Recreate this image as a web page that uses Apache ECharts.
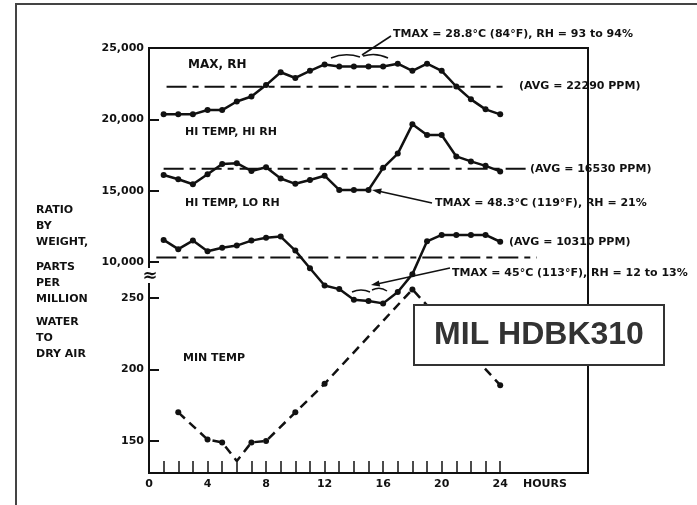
<!DOCTYPE html>
<html>
<head>
<meta charset="utf-8">
<script src="https://cdn.jsdelivr.net/npm/echarts@6/dist/echarts.min.js"></script>
<style>
  html, body { margin: 0; padding: 0; background: #fff; }
  #chart { width: 697px; height: 505px; }
</style>
</head>
<body>
<div id="chart"></div>
<script>
// hours of day
const hours = [1, 2, 3, 4, 5, 6, 7, 8, 9, 10, 11, 12, 13, 14, 15, 16, 17, 18, 19, 20, 21, 22, 23, 24];
const hourTicks = [1, 2, 3, 4, 5, 6, 7, 8, 9, 10, 11, 12, 13, 14, 15, 16, 17, 18, 19, 20, 21, 22, 23, 24];
const hourLabels = [0, 4, 8, 12, 16, 20, 24];

// ppm values, upper scale
const maxRh = [20350, 20350, 20350, 20650, 20650, 21250, 21600, 22400, 23300, 22900, 23400, 23850,
  23700, 23700, 23700, 23700, 23900, 23400, 23900, 23400, 22300, 21400, 20700, 20350];
const hiTempHiRh = [16100, 15800, 15450, 16150, 16870, 16930, 16380, 16640, 15850, 15480, 15750, 16050,
  15050, 15050, 15050, 16600, 17600, 19650, 18900, 18900, 17400, 17050, 16740, 16350];
const hiTempLoRh = [11550, 10900, 11500, 10750, 11000, 11150, 11500, 11700, 11780, 10800, 9560, 8350,
  8100, 7350, 7270, 7100, 7900, 9150, 11450, 11900, 11900, 11900, 11900, 11420];

// ppm values, lower scale
const minTempHours = [2, 4, 5, 6, 7, 8, 10, 12, 18, 24];
const minTemp = [170, 151, 149, 136, 149, 150, 170, 190, 256, 189];

// daily averages
const avgValues = [22290, 16530, 10310];
const avgFrom = [1.2, 1.0, 0.5];
const avgTo = [24.5, 25.9, 26.5];

const upperTicks = [10000, 15000, 20000, 25000];
const lowerTicks = [150, 200, 250];

const chart = echarts.init(document.getElementById('chart'));

const FONT = '"DejaVu Sans", sans-serif';
const INK = '#111';

function txt(text, x, y, extra) {
  return {
    type: 'text', z: 50,
    style: Object.assign({
      text: text, x: x, y: y, fill: INK,
      font: 'bold 11px ' + FONT, textVerticalAlign: 'middle'
    }, extra || {})
  };
}
function seg(points, w) {
  return { type: 'polyline', z: 50, shape: { points: points },
    style: { stroke: INK, lineWidth: w || 1.5, fill: null } };
}
function curve(x1, y1, cx, cy, x2, y2) {
  return { type: 'bezierCurve', z: 50,
    shape: { x1: x1, y1: y1, cpx1: cx, cpy1: cy, x2: x2, y2: y2 },
    style: { stroke: INK, lineWidth: 1.5, fill: null } };
}
function head(points) {
  return { type: 'polygon', z: 50, shape: { points: points }, style: { fill: INK } };
}

const lineStyle = { color: INK, width: 2.5 };

const avgSeries = avgValues.map((v, i) => ({
  type: 'line',
  data: [[avgFrom[i], v], [avgTo[i], v]],
  symbol: 'none',
  lineStyle: { color: INK, width: 2, type: [20, 6, 6, 6] },
  silent: true,
  z: 1
}));

const option = {
  animation: false,
  backgroundColor: '#fff',
  grid: {
    left: 149, top: 48, width: 439, height: 425,
    show: true, borderColor: INK, borderWidth: 2
  },
  xAxis: {
    type: 'value', min: 0, max: 30,
    axisLine: { onZero: false, lineStyle: { color: INK, width: 2 } },
    axisTick: { inside: true, length: 12, customValues: hourTicks, lineStyle: { color: INK, width: 1.5 } },
    axisLabel: { customValues: hourLabels, color: INK, fontFamily: FONT, fontWeight: 'bold', fontSize: 11, margin: 6 },
    splitLine: { show: false }
  },
  yAxis: [
    {
      type: 'value', min: -4789, max: 25000,
      axisLine: { show: true, onZero: false, lineStyle: { color: INK, width: 2 } },
      axisTick: { show: true, inside: true, length: 10, customValues: [10000, 15000, 20000], lineStyle: { color: INK, width: 2 } },
      axisLabel: {
        customValues: upperTicks, color: INK, fontFamily: FONT, fontWeight: 'bold', fontSize: 11, margin: 5,
        formatter: v => v.toLocaleString('en-US')
      },
      splitLine: { show: false }
    },
    {
      type: 'value', min: 127.6, max: 424.8, position: 'left',
      axisLine: { show: false, onZero: false },
      axisTick: { show: true, inside: true, length: 10, customValues: lowerTicks, lineStyle: { color: INK, width: 2 } },
      axisLabel: { customValues: lowerTicks, color: INK, fontFamily: FONT, fontWeight: 'bold', fontSize: 11, margin: 5 },
      splitLine: { show: false }
    }
  ],
  series: [
    ...avgSeries,
    {
      name: 'MAX, RH', type: 'line', data: hours.map((h, i) => [h, maxRh[i]]),
      symbol: 'circle', symbolSize: 6, itemStyle: { color: INK }, lineStyle: lineStyle, z: 3
    },
    {
      name: 'HI TEMP, HI RH', type: 'line', data: hours.map((h, i) => [h, hiTempHiRh[i]]),
      symbol: 'circle', symbolSize: 6, itemStyle: { color: INK }, lineStyle: lineStyle, z: 3
    },
    {
      name: 'HI TEMP, LO RH', type: 'line', data: hours.map((h, i) => [h, hiTempLoRh[i]]),
      symbol: 'circle', symbolSize: 6, itemStyle: { color: INK }, lineStyle: lineStyle, z: 3
    },
    {
      name: 'MIN TEMP', type: 'line', yAxisIndex: 1,
      data: minTempHours.map((h, i) => (h === 6 ? { value: [h, minTemp[i]], symbol: 'none' } : [h, minTemp[i]])),
      symbol: 'circle', symbolSize: 6, itemStyle: { color: INK },
      lineStyle: { color: INK, width: 2.5, type: [9, 6] }, z: 3
    }
  ],
  graphic: [
    // outer frame (right and bottom edges lie outside the picture)
    { type: 'rect', z: 0, shape: { x: 16, y: 4, width: 700, height: 520 },
      style: { fill: null, stroke: '#444', lineWidth: 2 } },

    // axis break
    { type: 'rect', z: 40, shape: { x: 143, y: 268, width: 14, height: 15 }, style: { fill: '#fff' } },
    txt('≈', 150, 276, { font: 'bold 18px ' + FONT, textAlign: 'center' }),

    // y-axis title
    txt('RATIO', 36, 210), txt('BY', 36, 226), txt('WEIGHT,', 36, 242),
    txt('PARTS', 36, 267), txt('PER', 36, 283), txt('MILLION', 36, 299),
    txt('WATER', 36, 322), txt('TO', 36, 338), txt('DRY AIR', 36, 354),

    // curve names
    txt('MAX, RH', 188, 65, { font: 'bold 12px ' + FONT }),
    txt('HI TEMP, HI RH', 185, 132),
    txt('HI TEMP, LO RH', 185, 203),
    txt('MIN TEMP', 183, 358),
    txt('HOURS', 523, 484),

    // averages
    txt('(AVG = 22290 PPM)', 519, 86),
    txt('(AVG = 16530 PPM)', 530, 169),
    txt('(AVG = 10310 PPM)', 509, 242),

    // TMAX notes
    txt('TMAX = 28.8°C (84°F), RH = 93 to 94%', 393, 34),
    seg([[391, 36], [362, 55]]),
    curve(331, 58, 345, 52, 360, 57),
    curve(363, 56, 376, 52, 388, 58),

    txt('TMAX = 48.3°C (119°F), RH = 21%', 435, 203),
    seg([[432, 203], [378, 191]]),
    head([[372, 190], [381.8, 188.6], [380.4, 194.4]]),

    txt('TMAX = 45°C (113°F), RH = 12 to 13%', 452, 273),
    seg([[450, 268], [377, 284]]),
    head([[371, 285], [380.2, 286.4], [378.8, 280.6]]),
    curve(352, 292, 361, 288, 370, 292),
    curve(372, 290, 380, 286, 387, 291),

    // source box
    { type: 'rect', z: 60, shape: { x: 414, y: 305, width: 250, height: 60 },
      style: { fill: '#fff', stroke: '#333', lineWidth: 2 } },
    { type: 'text', z: 61, style: {
      text: 'MIL HDBK310', x: 539, y: 335, fill: '#333',
      font: 'bold 32px "Liberation Sans", Arial, sans-serif',
      textAlign: 'center', textVerticalAlign: 'middle' } }
  ]
};

chart.setOption(option);
</script>
</body>
</html>
